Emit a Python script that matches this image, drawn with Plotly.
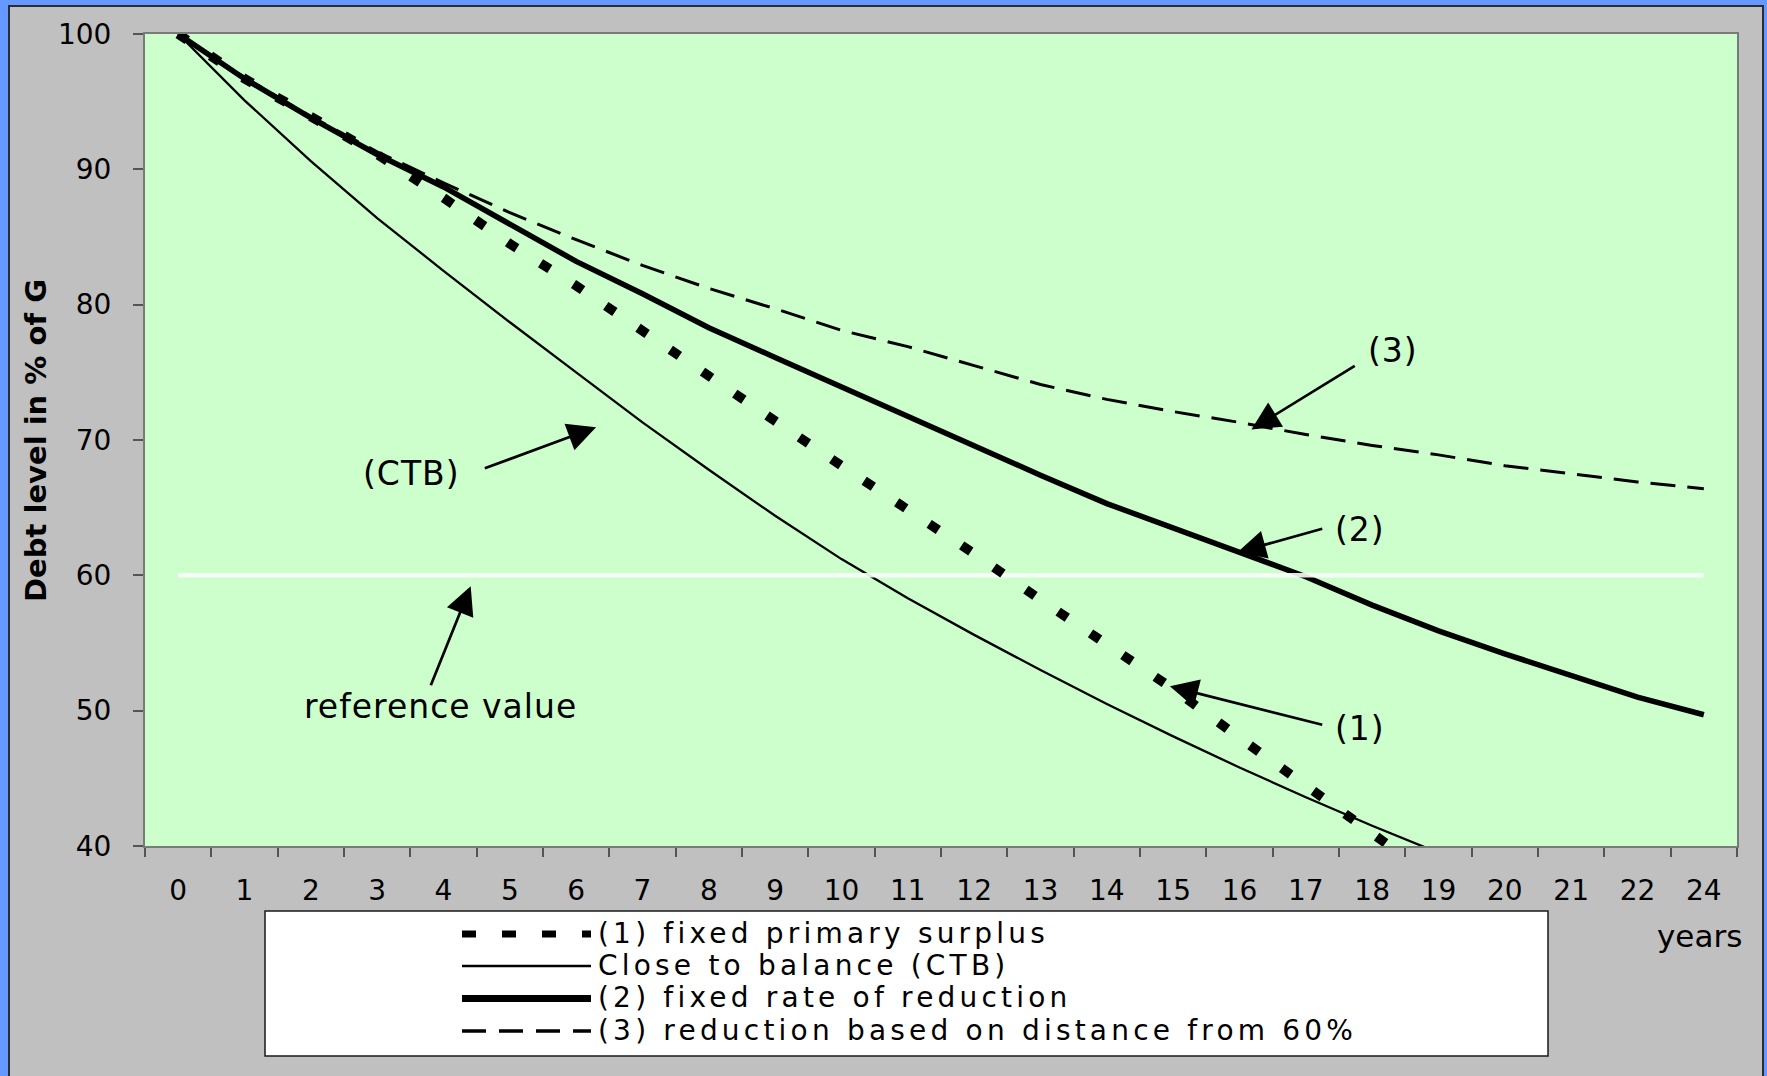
import plotly.graph_objects as go

# ---- data -------------------------------------------------------------
year_labels = ["0", "1", "2", "3", "4", "5", "6", "7", "8", "9", "10", "11",
               "12", "13", "14", "15", "16", "17", "18", "19", "20", "21",
               "22", "24"]

# (1) fixed primary surplus (drops below the 40 floor after year 18)
fixed_primary_surplus = [100, 96.7, 93.9, 91.1, 87.9, 84.5, 81.4, 78.0, 74.7,
                         71.4, 68.1, 64.9, 61.6, 58.2, 54.9, 51.6, 48.0, 44.4,
                         40.9, 37.4]
# Close to balance (CTB)
close_to_balance = [100, 95.1, 90.6, 86.4, 82.5, 78.7, 75.0, 71.3, 67.8, 64.4,
                    61.2, 58.3, 55.6, 53.0, 50.5, 48.1, 45.8, 43.6, 41.5, 39.5]
# (2) fixed rate of reduction
fixed_rate_reduction = [100, 96.7, 93.8, 91.1, 88.7, 86.0, 83.2, 80.8, 78.3,
                        76.1, 73.9, 71.7, 69.5, 67.4, 65.3, 63.5, 61.8, 59.9,
                        57.8, 55.9, 54.2, 52.6, 51.0, 49.7]
# (3) reduction based on distance from 60%
distance_based = [100, 96.8, 93.9, 91.3, 89.0, 86.8, 84.8, 82.9, 81.2, 79.7,
                  78.1, 76.9, 75.5, 74.1, 73.0, 72.1, 71.3, 70.4, 69.6, 68.9,
                  68.1, 67.5, 66.9, 66.4]
reference_value = 60

series_names = ["(1) fixed primary surplus", "Close to balance (CTB)",
                "(2) fixed rate of reduction",
                "(3) reduction based on distance from 60%"]

# ---- page geometry ----------------------------------------------------
W, H = 1767, 1076
ML, MR, MT, MB = 145, 30, 34, 230
PW, PH = W - ML - MR, H - MT - MB


def px(x):
    return (x - ML) / PW


def py(y):
    return (H - MB - y) / PH


def spaced(text, gap):
    return '<span style="letter-spacing:%spx">%s</span>' % (gap, text)


FONT = "DejaVu Sans"
BLUE = "#6699ff"
GRAY = "#c0c0c0"

fig = go.Figure()

fig.add_trace(go.Scatter(
    x=year_labels[:len(close_to_balance)], y=close_to_balance, mode="lines",
    name=series_names[1], line=dict(color="black", width=2.3),
    showlegend=False))
fig.add_trace(go.Scatter(
    x=year_labels[:len(fixed_rate_reduction)], y=fixed_rate_reduction,
    mode="lines", name=series_names[2],
    line=dict(color="black", width=5.5), showlegend=False))
fig.add_trace(go.Scatter(
    x=year_labels, y=[reference_value] * len(year_labels), mode="lines",
    name="reference value", line=dict(color="rgba(250,255,250,0.9)", width=4.5),
    showlegend=False))
fig.add_trace(go.Scatter(
    x=year_labels[:len(fixed_primary_surplus)], y=fixed_primary_surplus,
    mode="lines", name=series_names[0],
    line=dict(color="black", width=9.5, dash="11px,28px"), showlegend=False))
fig.add_trace(go.Scatter(
    x=year_labels[:len(distance_based)], y=distance_based, mode="lines",
    name=series_names[3], line=dict(color="black", width=3, dash="25px,12px"),
    showlegend=False))

# ---- frame: blue edge strips and dark outline ------------------------
shapes = [
    dict(type="rect", xref="paper", yref="paper", x0=px(0), x1=px(W),
         y0=py(5), y1=py(0), fillcolor=BLUE, line=dict(width=0)),
    dict(type="rect", xref="paper", yref="paper", x0=px(0), x1=px(8),
         y0=py(H), y1=py(0), fillcolor=BLUE, line=dict(width=0)),
    dict(type="rect", xref="paper", yref="paper", x0=px(1764), x1=px(W),
         y0=py(H), y1=py(0), fillcolor=BLUE, line=dict(width=0)),
    dict(type="line", xref="paper", yref="paper", x0=px(8), x1=px(1764),
         y0=py(6), y1=py(6), line=dict(color="#2a2a38", width=2)),
    dict(type="line", xref="paper", yref="paper", x0=px(9), x1=px(9),
         y0=py(6), y1=py(H), line=dict(color="#2a2a38", width=2)),
    dict(type="line", xref="paper", yref="paper", x0=px(1763), x1=px(1763),
         y0=py(6), y1=py(H), line=dict(color="#2a2a38", width=2)),
]

# ---- hand-built legend box -------------------------------------------
shapes.append(dict(type="rect", xref="paper", yref="paper",
                   x0=px(265), x1=px(1548), y0=py(1056), y1=py(911),
                   fillcolor="white", line=dict(color="#1a1a1a", width=1.5)))
legend_rows = [934, 966, 998.5, 1031]
legend_styles = [dict(width=7, dash="14px,26px"), dict(width=2.7),
                 dict(width=7), dict(width=3.3, dash="24px,13px")]
annotations = []
for row_y, style, label in zip(legend_rows, legend_styles, series_names):
    shapes.append(dict(type="line", xref="paper", yref="paper",
                       x0=px(462), x1=px(591), y0=py(row_y), y1=py(row_y),
                       line=dict(color="black", **style)))
    annotations.append(dict(xref="paper", yref="paper", x=px(596),
                            y=py(row_y - 1), text=spaced(label, 4.2),
                            showarrow=False, xanchor="left", yanchor="middle",
                            font=dict(family=FONT, size=28, color="black")))

# ---- labels and arrows inside the plot --------------------------------
labels = [("(CTB)", 3.51, 67.55), ("reference value", 3.95, 50.3),
          ("(3)", 18.31, 76.6), ("(2)", 17.82, 63.4), ("(1)", 17.82, 48.7)]
for text, lx, ly in labels:
    annotations.append(dict(xref="x", yref="y", x=lx, y=ly,
                            text=spaced(text, 1),
                            showarrow=False, xanchor="center",
                            yanchor="middle",
                            font=dict(family=FONT, size=33, color="black")))

arrows = [(6.30, 70.95, 4.60, 67.87), (4.41, 59.2, 3.80, 51.77),
          (16.18, 70.78, 17.76, 75.55), (15.97, 61.7, 17.27, 63.47),
          (14.95, 51.8, 17.27, 48.93)]
for tx, ty, sx, sy in arrows:
    annotations.append(dict(xref="x", yref="y", axref="x", ayref="y",
                            x=tx, y=ty, ax=sx, ay=sy, text="",
                            showarrow=True, arrowhead=2, arrowsize=2.1,
                            arrowwidth=2.7, arrowcolor="black", standoff=0))

annotations.append(dict(xref="paper", yref="paper", x=px(36), y=0.5,
                        text="<b>Debt level in % of G</b>", textangle=-90,
                        showarrow=False, xanchor="center", yanchor="middle",
                        font=dict(family=FONT, size=29, color="black")))
annotations.append(dict(xref="paper", yref="paper", x=px(1744), y=py(936),
                        text="years", showarrow=False, xanchor="right",
                        yanchor="middle",
                        font=dict(family=FONT, size=31, color="black")))

fig.update_layout(
    width=W, height=H,
    margin=dict(l=ML, r=MR, t=MT, b=MB, pad=0),
    paper_bgcolor=GRAY, plot_bgcolor="#ccffcc",
    shapes=shapes, annotations=annotations, showlegend=False,
    font=dict(family=FONT, color="black"),
    xaxis=dict(type="category", categoryorder="array",
               categoryarray=year_labels, range=[-0.5, 23.5],
               tickson="boundaries", ticks="outside", ticklen=9,
               tickwidth=1.5, tickcolor="#555555", showgrid=False,
               showline=True, linecolor="#7a7a7a", linewidth=2, mirror=True,
               tickfont=dict(family=FONT, size=28, color="black"),
               ticklabelstandoff=18, fixedrange=True),
    yaxis=dict(range=[40, 100], dtick=10, ticks="outside", ticklen=10,
               tickwidth=1.5, tickcolor="#555555", showgrid=False,
               zeroline=False, showline=True, linecolor="#7a7a7a",
               linewidth=2, mirror=True,
               tickfont=dict(family=FONT, size=28, color="black"),
               ticklabelstandoff=16, fixedrange=True),
)

fig.write_html("out.html", config={"displayModeBar": False})
